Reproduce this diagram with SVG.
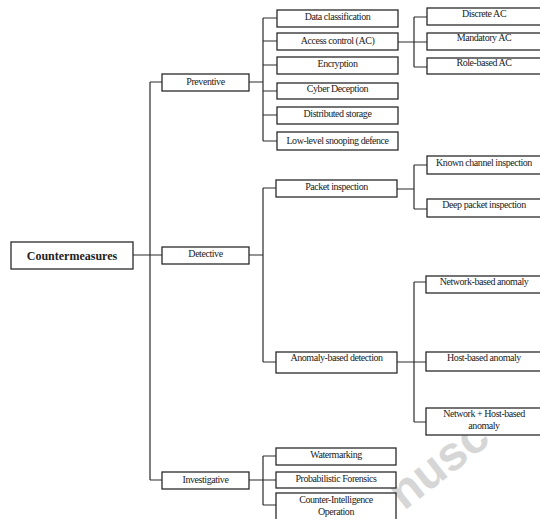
<svg xmlns="http://www.w3.org/2000/svg" width="540" height="519" viewBox="0 0 540 519">
<style>
.b{fill:#fff;stroke:#2a2a2a;stroke-width:1.3}
.t{font-family:"Liberation Serif",serif;font-size:10px;fill:#222;text-anchor:middle;letter-spacing:-0.45px}
.c{fill:none;stroke:#2a2a2a;stroke-width:1.2}
.wm{font-family:"Liberation Sans",sans-serif;font-weight:bold;font-size:48px;fill:#d6d6d6}
</style>
<rect width="540" height="519" fill="#fff"/>
<g id="watermark"><text class="wm" transform="translate(404,511) rotate(-38)">nusc</text></g>
<g id="connectors">
<path class="c" d="M133 255H150M150 82V480M150 82H162M150 255H162M150 480H162"/>
<path class="c" d="M249 82H263M263 18V141M263 18H277M263 41H277M263 65H277M263 91H277M263 115H277M263 141H277"/>
<path class="c" d="M398 42H414M414 17V67M414 17H427M414 42H427M414 67H427"/>
<path class="c" d="M249 255H263M263 188V362M263 188H276M263 362H276"/>
<path class="c" d="M397 189H414M414 165V209M414 165H427M414 209H427"/>
<path class="c" d="M397 362H426M414 282V422M414 282H426M414 422H426"/>
<path class="c" d="M249 480H263M263 456V505M263 456H276M263 480H276M263 505H276"/>
</g>
<g id="countermeasures"><rect class="b" x="11" y="242" width="122" height="27"/><text x="72" y="259.5" style="font-family:'Liberation Serif',serif;font-weight:bold;font-size:12px;fill:#222;text-anchor:middle">Countermeasures</text></g>
<g id="preventive"><rect class="b" x="162" y="74" width="87" height="17"/><text class="t" x="205.5" y="85">Preventive</text></g>
<g id="detective"><rect class="b" x="162" y="247" width="87" height="17"/><text class="t" x="205.5" y="257">Detective</text></g>
<g id="investigative"><rect class="b" x="162" y="472" width="87" height="17"/><text class="t" x="205.5" y="482.5">Investigative</text></g>
<g id="data-classification"><rect class="b" x="277" y="10" width="121" height="17"/><text class="t" x="337.5" y="20">Data classification</text></g>
<g id="access-control"><rect class="b" x="277" y="33" width="121" height="17"/><text class="t" x="337.5" y="44">Access control (AC)</text></g>
<g id="encryption"><rect class="b" x="277" y="57" width="121" height="17"/><text class="t" x="337.5" y="67">Encryption</text></g>
<g id="cyber-deception"><rect class="b" x="277" y="83" width="121" height="16"/><text class="t" x="337.5" y="92">Cyber Deception</text></g>
<g id="distributed-storage"><rect class="b" x="277" y="107" width="121" height="17"/><text class="t" x="337.5" y="117">Distributed storage</text></g>
<g id="low-level-snooping"><rect class="b" x="277" y="132" width="121" height="18"/><text class="t" x="337.5" y="143.5">Low-level snooping defence</text></g>
<g id="discrete-ac"><rect class="b" x="427" y="8" width="115" height="17"/><text class="t" x="484" y="17">Discrete AC</text></g>
<g id="mandatory-ac"><rect class="b" x="427" y="33" width="115" height="17"/><text class="t" x="484" y="41">Mandatory AC</text></g>
<g id="role-based-ac"><rect class="b" x="427" y="58" width="115" height="16"/><text class="t" x="484" y="66">Role-based AC</text></g>
<g id="packet-inspection"><rect class="b" x="276" y="180" width="121" height="17"/><text class="t" x="336.5" y="189.5">Packet inspection</text></g>
<g id="anomaly-based-detection"><rect class="b" x="276" y="352" width="121" height="21"/><text class="t" x="336.5" y="360.5">Anomaly-based detection</text></g>
<g id="known-channel"><rect class="b" x="427" y="156" width="115" height="18"/><text class="t" x="484" y="166">Known channel inspection</text></g>
<g id="deep-packet"><rect class="b" x="427" y="199" width="115" height="18"/><text class="t" x="484" y="208">Deep packet inspection</text></g>
<g id="network-based"><rect class="b" x="426" y="276" width="116" height="17"/><text class="t" x="484" y="285">Network-based anomaly</text></g>
<g id="host-based"><rect class="b" x="426" y="352" width="116" height="19"/><text class="t" x="484" y="361">Host-based anomaly</text></g>
<g id="network-host-based"><rect class="b" x="426" y="408" width="116" height="27"/><text class="t" x="484" y="417">Network + Host-based</text><text class="t" x="484" y="429">anomaly</text></g>
<g id="watermarking"><rect class="b" x="276" y="448" width="120" height="17"/><text class="t" x="336" y="458">Watermarking</text></g>
<g id="probabilistic-forensics"><rect class="b" x="276" y="472" width="120" height="16"/><text class="t" x="336" y="481.5">Probabilistic Forensics</text></g>
<g id="counter-intelligence"><rect class="b" x="276" y="493" width="120" height="30"/><text class="t" x="336" y="503">Counter-Intelligence</text><text class="t" x="336" y="514.5">Operation</text></g>
</svg>
